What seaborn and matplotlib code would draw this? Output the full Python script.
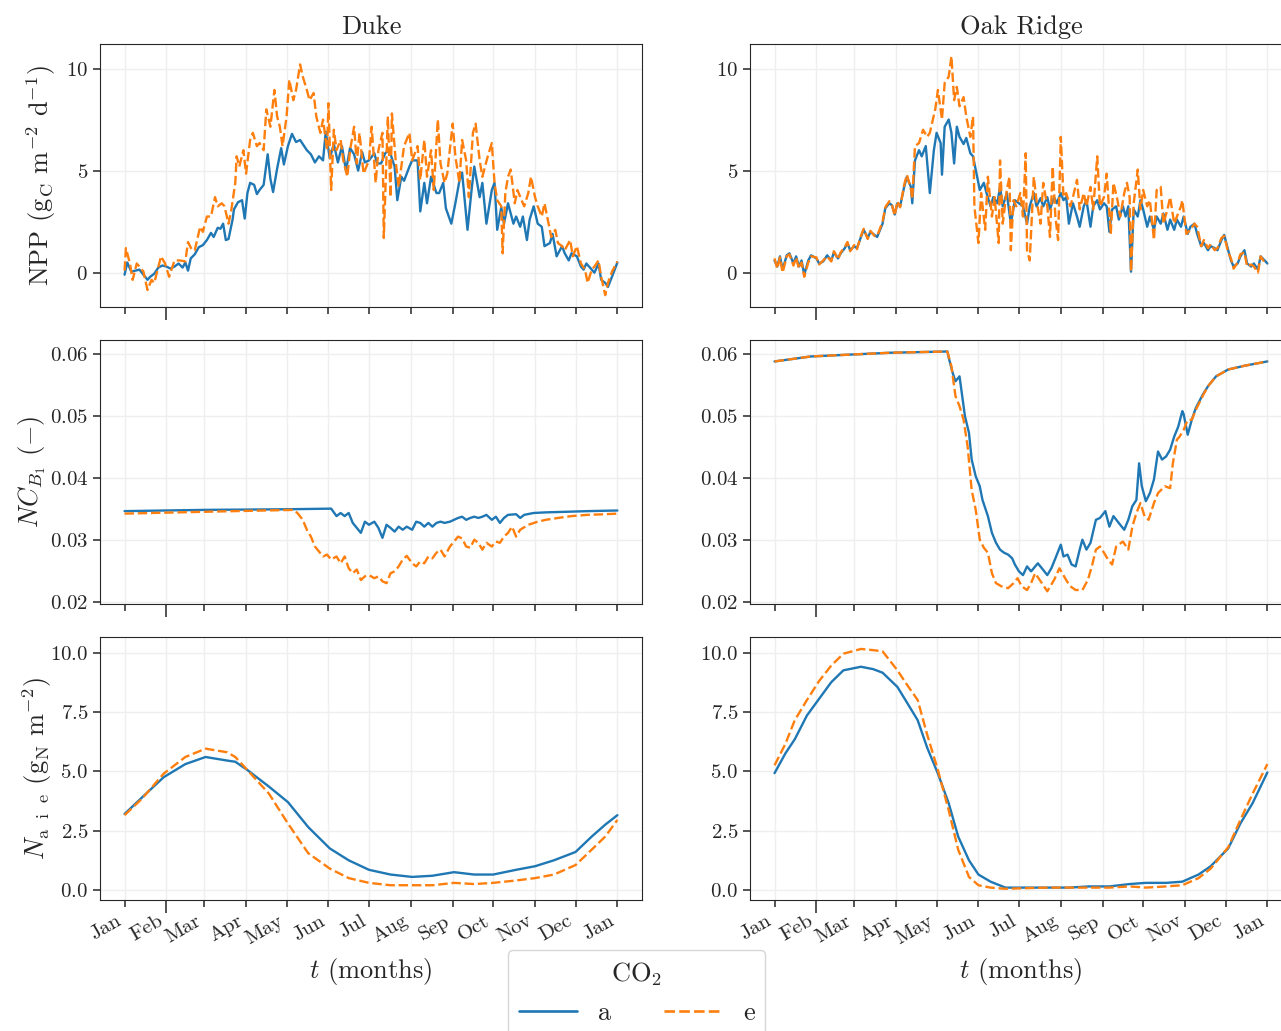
import numpy as np
import pandas as pd
import matplotlib
matplotlib.use("Agg")
import matplotlib.pyplot as plt
import seaborn as sns

# ---------------- data ----------------
months = ["Jan", "Feb", "Mar", "Apr", "May", "Jun", "Jul", "Aug", "Sep", "Oct", "Nov", "Dec", "Jan"]
month_days = [0, 31, 59, 90, 120, 151, 181, 212, 243, 273, 304, 334, 365]
sites = ["Duke", "Oak Ridge"]
co2_levels = ["a", "e"]

# NPP, Duke, ambient
duke_npp_a_day = [0, 2, 5, 8, 11, 14, 17, 19, 22, 25, 28, 31, 34, 37, 40, 43, 45, 47, 49, 52, 55, 58, 61, 64, 66, 69,
                  71, 73, 75, 77, 80, 81, 84, 87, 89, 91, 93, 96, 98, 100, 103, 106, 108, 110, 113, 116, 118, 121, 124,
                  127, 130, 132, 135, 138, 141, 144, 147, 149, 152, 155, 158, 161, 164, 167, 170, 173, 176, 178,
                  181, 185, 187, 190, 193, 196, 200, 202, 205, 207, 211, 213, 217, 219, 222, 224, 227, 231, 233, 236,
                  238, 242, 245, 248, 250, 254, 257, 259, 263, 265, 268, 272, 274, 276, 279, 281, 284, 288, 290, 293,
                  295, 298, 300, 303, 306, 309, 311, 315, 317, 320, 324, 326, 329, 331, 335, 338, 340, 342, 346, 348,
                  351, 353, 356, 358, 361, 365]
duke_npp_a = [-0.1, 0.5, 0.05, 0.1, 0.15, -0.1, -0.35, -0.2, -0.05, 0.25, 0.35, 0.3, 0.2, 0.3, 0.45, 0.25, 0.5, 0.1,
              0.7, 0.9, 1.25, 1.35, 1.6, 1.95, 1.75, 2.2, 2.15, 2.4, 1.6, 1.65, 2.6, 3.1, 3.45, 3.55, 2.65, 3.9, 4.4,
              4.3, 3.85, 4.05, 4.3, 5.8, 4.6, 3.95, 5.1, 6.1, 5.3, 6.2, 6.8, 6.4, 6.5, 6.3, 6.0, 5.8, 5.4, 5.7, 5.5,
              6.9, 5.6, 6.3, 5.4, 6.2, 5.0, 6.1, 5.8, 5.0, 5.9, 5.4,
              5.5, 5.85, 5.35, 5.35, 5.85, 6.0, 5.2, 3.55, 4.7, 4.5, 5.2, 5.5, 5.5, 3.0, 4.4, 3.4, 4.7, 3.9, 3.9, 4.4,
              3.15, 2.4, 3.4, 4.5, 4.9, 2.1, 4.05, 5.2, 3.7, 4.4, 2.4, 4.05, 4.4, 2.1, 3.2, 2.4, 3.4, 2.4, 2.75, 2.25,
              2.75, 1.6, 2.6, 3.25, 2.4, 2.25, 1.3, 1.45, 1.9, 0.8, 1.3, 0.95, 0.6, 0.95, 0.8, 0.3, 0.15, 0.45, 0.15,
              0.0, 0.45, -0.35, -0.5, -0.7, -0.2, 0.5]

# NPP, Duke, elevated
duke_npp_e_day = [0, 1, 4, 6, 9, 11, 14, 17, 20, 22, 27, 30, 33, 37, 41, 45, 47, 50, 52, 56, 58, 61, 64, 67, 69, 72,
                  74, 77, 79, 82, 83, 85, 88, 90, 93, 95, 98, 100, 103, 105, 108, 111, 113, 115, 117, 120, 122, 125,
                  127, 130, 132, 135, 137, 140, 142, 145, 147, 150, 151, 153, 155, 157, 160, 162, 165, 167, 170, 172,
                  174, 177,
                  181, 183, 186, 188, 191, 192, 195, 197, 198, 201, 203, 207, 211, 213, 217, 219, 222, 224, 227, 229,
                  232, 234, 237, 239, 243, 245, 248, 250, 253, 255, 258, 260, 263, 265, 269, 272, 274, 276, 279, 280,
                  282, 284, 286, 289, 291, 294, 296, 299, 301, 304, 306, 309, 311, 314, 316, 319, 321, 324, 326, 330,
                  332, 335, 338, 341, 343, 346, 348, 351, 353, 356, 358, 361, 365]
duke_npp_e = [0.1, 1.2, 0.45, -0.35, 0.45, 0.3, 0.05, -0.85, -0.35, -0.5, 0.8, 0.45, -0.2, 0.6, 0.6, 0.55, 1.5, 1.1,
              1.1, 2.25, 2.0, 2.75, 2.75, 3.7, 3.25, 3.4, 3.25, 2.4, 3.05, 4.4, 5.7, 5.2, 6.0, 4.85, 6.5, 6.85, 6.2,
              6.35, 6.0, 8.0, 7.15, 8.95, 7.65, 7.15, 6.2, 7.65, 9.45, 8.45, 8.95, 10.2, 9.6, 8.95, 8.45, 8.8, 7.65,
              6.85, 7.5, 6.0, 8.3, 4.05, 7.0, 6.0, 6.5, 5.5, 4.7, 6.0, 7.15, 5.35, 6.85, 4.85,
              5.5, 7.15, 4.4, 6.0, 6.85, 1.7, 7.65, 3.7, 7.8, 5.35, 4.2, 6.2, 6.85, 5.5, 6.2, 4.55, 6.5, 4.7, 6.0,
              4.05, 7.5, 5.35, 4.4, 4.85, 7.3, 5.7, 4.4, 6.5, 5.5, 3.7, 6.85, 7.3, 5.5, 4.7, 5.7, 6.35, 4.4, 3.55,
              3.25, 0.95, 3.9, 4.7, 5.05, 3.4, 4.05, 3.55, 3.25, 3.9, 4.7, 3.7, 3.25, 2.75, 3.4, 2.4, 1.75, 2.1, 1.45,
              1.3, 1.1, 1.6, 0.8, 1.3, 0.45, 0.15, -0.5, 0.15, 0.3, 0.6, -0.2, -1.1, -0.5, 0.05, 0.55]

# NPP, Oak Ridge, ambient
oak_npp_a_day = [0, 2, 4, 6, 9, 11, 14, 16, 18, 20, 22, 25, 27, 31, 33, 36, 39, 42, 44, 47, 49, 52, 54, 56, 59, 61,
                 64, 66, 69, 71, 74, 76, 80, 82, 85, 87, 89, 91, 93, 96, 98, 101, 102, 104, 107, 109, 112, 115, 118,
                 120, 123, 124, 126, 129, 131, 133, 135, 137, 140, 142, 145, 147, 150, 152, 155, 157, 160, 162, 165,
                 167, 169, 172, 175, 178, 181, 184, 187, 189, 192, 194, 197, 199, 202, 204, 207, 209, 212, 214, 216,
                 218, 221, 224, 226, 229, 231, 234, 236, 239, 241, 244, 246, 248, 250, 253, 255, 258, 260, 262, 264,
                 266, 269, 271, 273, 276, 278, 281, 283, 286, 288, 291, 293, 296, 298, 301, 303, 306, 308, 311, 313,
                 316, 318, 321, 323, 326, 328, 331, 333, 336, 338, 340, 343, 345, 348, 350, 353, 355, 358, 360, 363, 365]
oak_npp_a = [0.6, 0.3, 0.8, 0.15, 0.85, 0.95, 0.45, 0.8, 0.3, 0.6, -0.1, 0.6, 0.85, 0.7, 0.45, 0.55, 0.85, 0.6, 1.0,
             0.7, 0.95, 1.2, 1.45, 1.1, 1.3, 1.2, 1.75, 2.1, 1.7, 2.0, 1.85, 1.75, 2.4, 3.15, 3.4, 3.3, 2.85, 3.4,
             3.25, 4.2, 4.7, 4.2, 3.4, 5.5, 6.0, 5.7, 6.2, 3.9, 6.0, 6.85, 6.35, 4.8, 7.15, 7.5, 6.85, 5.35, 7.15,
             6.65, 6.3, 6.6, 5.85, 5.7, 4.7, 4.05, 4.4, 3.9, 3.25, 3.7, 3.4, 4.2, 3.25, 3.9, 2.4, 3.55, 3.4, 3.25,
             2.4, 3.25, 3.9, 3.25, 3.65, 3.25, 3.7, 3.1, 3.7, 3.4, 3.9, 3.55, 3.7, 2.4, 3.4, 2.75, 2.25, 3.25, 3.55,
             2.25, 3.25, 3.55, 3.1, 3.4, 3.25, 2.0, 3.1, 3.25, 2.6, 3.25, 2.75, 3.25, 0.05, 3.1, 2.75, 3.55, 3.1,
             2.25, 2.75, 2.1, 2.75, 2.4, 2.9, 2.1, 2.6, 2.1, 2.6, 2.25, 2.75, 1.9, 2.25, 2.4, 1.9, 1.3, 1.45, 1.1,
             1.3, 1.2, 1.1, 1.6, 1.85, 1.1, 0.6, 0.3, 0.45, 0.8, 1.1, 0.45, 0.3, 0.45, 0.15, 0.8, 0.6, 0.45]

# NPP, Oak Ridge, elevated
oak_npp_e_day = [0, 2, 4, 6, 9, 11, 14, 16, 18, 20, 22, 25, 27, 31, 33, 36, 39, 42, 44, 47, 49, 52, 54, 56, 59, 61,
                 64, 66, 69, 71, 74, 76, 80, 82, 85, 87, 89, 91, 93, 96, 98, 101, 102, 104, 107, 110, 113, 115, 119,
                 121, 124, 126, 129, 131, 133, 135, 137, 140, 142, 145, 147, 148, 151, 153, 156, 158, 161, 163, 166,
                 167, 169, 172, 174, 175, 177, 179, 182, 184, 186, 187, 189, 192, 194, 197, 199, 202, 204, 206, 208,
                 210, 212, 214, 216, 219, 221, 224, 226, 229, 231, 234, 236, 239, 241, 244, 246, 249, 251, 254, 256,
                 259, 261, 263, 264, 266, 269, 271, 273, 276, 278, 281, 283, 286, 288, 291, 293, 296, 298, 301, 302,
                 305, 308, 311, 313, 316, 318, 321, 323, 326, 328, 331, 333, 336, 338, 340, 343, 345, 348, 350, 353,
                 355, 358, 360, 363, 365]
oak_npp_e = [0.7, 0.2, 0.75, 0.0, 0.8, 0.9, 0.35, 0.75, 0.2, 0.5, -0.2, 0.5, 0.8, 0.75, 0.4, 0.6, 0.8, 0.55, 1.05,
             0.65, 1.0, 1.25, 1.5, 1.05, 1.35, 1.15, 1.8, 2.15, 1.65, 2.05, 1.8, 1.8, 2.5, 3.2, 3.5, 3.3, 2.8, 3.5,
             3.2, 4.3, 4.8, 4.1, 3.6, 6.2, 6.35, 7.0, 6.65, 6.85, 8.0, 8.95, 7.5, 9.3, 9.6, 10.6, 8.45, 9.1, 8.15,
             8.6, 7.65, 6.65, 7.65, 3.25, 1.45, 3.9, 2.1, 4.7, 2.75, 3.7, 1.45, 5.5, 2.4, 4.05, 4.7, 1.1, 3.55, 3.25,
             3.9, 2.75, 5.85, 1.1, 0.6, 4.7, 3.55, 2.4, 4.4, 3.25, 1.75, 5.2, 2.75, 1.6, 6.65, 3.7, 3.9, 3.25, 3.7,
             4.55, 3.1, 3.9, 3.25, 4.2, 3.1, 5.7, 3.25, 3.7, 4.85, 1.9, 4.4, 3.55, 2.75, 3.9, 4.4, 3.7, 0.05, 3.4,
             5.05, 3.1, 4.05, 3.25, 3.55, 1.6, 4.05, 4.2, 2.4, 3.1, 3.7, 2.4, 2.75, 3.25, 3.55, 1.9, 2.1, 2.4, 2.25,
             1.3, 1.6, 1.2, 1.4, 1.1, 1.2, 1.7, 1.8, 1.0, 0.7, 0.2, 0.5, 0.9, 1.0, 0.3, 0.4, 0.3, 0.0, 0.8, 0.5, 0.5]

# N:C of B1 pool
duke_nc_a_day = [0, 60, 120, 153, 157, 160, 163, 166, 169, 172, 175, 178, 181, 185, 188, 191, 194, 197, 200, 203,
                 206, 209, 213, 216, 219, 222, 225, 228, 231, 234, 237, 241, 244, 247, 250, 253, 256, 259, 262, 265,
                 268, 272, 275, 278, 281, 284, 290, 293, 296, 303, 312, 328, 343, 365]
duke_nc_a = [0.0347, 0.0349, 0.0350, 0.0351, 0.0339, 0.0344, 0.0339, 0.0344, 0.0328, 0.0320, 0.0312, 0.0330, 0.0325,
             0.0330, 0.0320, 0.0304, 0.0325, 0.0320, 0.0314, 0.0322, 0.0317, 0.0322, 0.0317, 0.0330, 0.0328, 0.0322,
             0.0328, 0.0322, 0.0328, 0.0330, 0.0328, 0.0330, 0.0333, 0.0336, 0.0338, 0.0333, 0.0336, 0.0338, 0.0336,
             0.0338, 0.0341, 0.0333, 0.0338, 0.0328, 0.0336, 0.0341, 0.0342, 0.0336, 0.0341, 0.0344, 0.0345, 0.0346,
             0.0347, 0.0348]
duke_nc_e_day = [0, 60, 125, 128, 132, 135, 138, 141, 144, 147, 150, 153, 157, 160, 163, 166, 169, 172, 175, 178,
                 181, 185, 188, 191, 194, 197, 200, 203, 206, 209, 213, 216, 219, 222, 225, 228, 231, 234, 237, 241,
                 244, 247, 250, 253, 256, 259, 262, 265, 268, 272, 275, 278, 281, 284, 287, 290, 293, 299, 306, 312,
                 321, 331, 343, 356, 365]
duke_nc_e = [0.0343, 0.0346, 0.0349, 0.0344, 0.0333, 0.0317, 0.0306, 0.0290, 0.0282, 0.0274, 0.0277, 0.0269, 0.0274,
             0.0263, 0.0274, 0.0255, 0.0247, 0.0253, 0.0236, 0.0242, 0.0244, 0.0239, 0.0242, 0.0234, 0.0231, 0.0247,
             0.0250, 0.0258, 0.0269, 0.0275, 0.0263, 0.0258, 0.0266, 0.0263, 0.0274, 0.0271, 0.0280, 0.0285, 0.0274,
             0.0290, 0.0298, 0.0306, 0.0303, 0.0290, 0.0288, 0.0301, 0.0296, 0.0285, 0.0296, 0.0290, 0.0298, 0.0296,
             0.0306, 0.0312, 0.0322, 0.0306, 0.0317, 0.0325, 0.0330, 0.0333, 0.0336, 0.0339, 0.0341, 0.0342, 0.0343]
oak_nc_a_day = [0, 27, 56, 86, 128, 129, 132, 134, 137, 138, 141, 144, 146, 149, 152, 154, 158, 161, 164, 167, 170,
                173, 176, 178, 181, 184, 187, 190, 195, 198, 202, 205, 208, 212, 214, 217, 220, 223, 226, 228, 231,
                234, 238, 241, 245, 248, 251, 256, 259, 262, 265, 268, 270, 272, 275, 278, 281, 284, 287, 290, 293,
                296, 299, 302, 303, 306, 309, 312, 317, 321, 327, 336, 348, 365]
oak_nc_a = [0.0588, 0.0596, 0.0599, 0.0602, 0.0604, 0.0594, 0.0569, 0.0556, 0.0564, 0.0548, 0.0500, 0.0473, 0.0430,
            0.0403, 0.0387, 0.0365, 0.0339, 0.0312, 0.0296, 0.0285, 0.0280, 0.0277, 0.0271, 0.0261, 0.0250, 0.0244,
            0.0258, 0.0250, 0.0263, 0.0255, 0.0244, 0.0255, 0.0271, 0.0293, 0.0274, 0.0277, 0.0261, 0.0258, 0.0285,
            0.0301, 0.0285, 0.0296, 0.0333, 0.0336, 0.0347, 0.0322, 0.0339, 0.0325, 0.0317, 0.0333, 0.0355, 0.0365,
            0.0424, 0.0387, 0.0363, 0.0376, 0.0398, 0.0443, 0.0430, 0.0435, 0.0446, 0.0467, 0.0483, 0.0508, 0.0503,
            0.0470, 0.0494, 0.0513, 0.0534, 0.0548, 0.0564, 0.0575, 0.0581, 0.0588]
oak_nc_e_day = [0, 27, 56, 86, 128, 131, 134, 137, 140, 143, 146, 149, 152, 155, 158, 161, 164, 168, 173, 177, 180,
                183, 187, 190, 193, 198, 202, 207, 211, 216, 219, 223, 228, 232, 235, 238, 241, 244, 247, 250, 253,
                258, 262, 265, 268, 271, 274, 277, 281, 284, 289, 293, 295, 298, 300, 303, 306, 309, 312, 317, 321,
                327, 336, 348, 365]
oak_nc_e = [0.0588, 0.0596, 0.0599, 0.0602, 0.0604, 0.0580, 0.0532, 0.0516, 0.0494, 0.0451, 0.0381, 0.0349, 0.0301,
            0.0288, 0.0280, 0.0247, 0.0231, 0.0226, 0.0223, 0.0231, 0.0239, 0.0226, 0.0220, 0.0231, 0.0247, 0.0231,
            0.0218, 0.0236, 0.0255, 0.0236, 0.0226, 0.0220, 0.0220, 0.0236, 0.0258, 0.0285, 0.0290, 0.0280, 0.0269,
            0.0261, 0.0290, 0.0298, 0.0285, 0.0322, 0.0344, 0.0360, 0.0339, 0.0333, 0.0360, 0.0376, 0.0387, 0.0384,
            0.0424, 0.0462, 0.0467, 0.0478, 0.0494, 0.0494, 0.0510, 0.0532, 0.0548, 0.0564, 0.0575, 0.0581, 0.0588]

# inorganic N available
duke_n_day = [0, 13, 29, 45, 60, 76, 82, 91, 107, 121, 136, 152, 166, 181, 197, 213, 228, 244, 259, 273, 290, 304,
              318, 334, 346, 356, 365]
duke_n_a = [3.2, 3.9, 4.75, 5.3, 5.6, 5.45, 5.4, 5.05, 4.35, 3.7, 2.65, 1.75, 1.25, 0.85, 0.65, 0.55, 0.6, 0.75,
            0.65, 0.65, 0.85, 1.0, 1.25, 1.6, 2.25, 2.75, 3.15]
duke_n_e = [3.15, 3.85, 4.9, 5.6, 5.95, 5.8, 5.6, 5.05, 4.05, 2.8, 1.55, 0.9, 0.5, 0.3, 0.2, 0.2, 0.2, 0.3, 0.25,
            0.3, 0.4, 0.5, 0.65, 1.05, 1.7, 2.25, 2.95]
oak_n_day = [0, 8, 15, 24, 33, 42, 51, 64, 73, 80, 91, 98, 106, 113, 121, 129, 136, 144, 151, 160, 171, 187, 203,
             218, 233, 248, 263, 275, 290, 302, 314, 323, 336, 345, 354, 365]
oak_n_a = [4.92, 5.75, 6.35, 7.35, 8.05, 8.75, 9.25, 9.4, 9.3, 9.15, 8.55, 7.9, 7.15, 6.0, 4.9, 3.65, 2.25, 1.25,
           0.65, 0.35, 0.1, 0.1, 0.1, 0.1, 0.15, 0.15, 0.25, 0.3, 0.3, 0.35, 0.65, 1.0, 1.75, 2.8, 3.65, 4.95]
oak_n_e = [5.25, 6.15, 7.15, 8.0, 8.8, 9.45, 9.95, 10.15, 10.1, 10.05, 9.25, 8.65, 8.0, 6.55, 5.05, 3.35, 1.7, 0.55,
           0.2, 0.1, 0.05, 0.08, 0.1, 0.1, 0.1, 0.1, 0.15, 0.1, 0.15, 0.2, 0.5, 0.9, 1.8, 2.95, 4.05, 5.3]

# ---------------- assemble ----------------
series = [
    ("NPP", "Duke", "a", duke_npp_a_day, duke_npp_a), ("NPP", "Duke", "e", duke_npp_e_day, duke_npp_e),
    ("NPP", "Oak Ridge", "a", oak_npp_a_day, oak_npp_a), ("NPP", "Oak Ridge", "e", oak_npp_e_day, oak_npp_e),
    ("NC", "Duke", "a", duke_nc_a_day, duke_nc_a), ("NC", "Duke", "e", duke_nc_e_day, duke_nc_e),
    ("NC", "Oak Ridge", "a", oak_nc_a_day, oak_nc_a), ("NC", "Oak Ridge", "e", oak_nc_e_day, oak_nc_e),
    ("N", "Duke", "a", duke_n_day, duke_n_a), ("N", "Duke", "e", duke_n_day, duke_n_e),
    ("N", "Oak Ridge", "a", oak_n_day, oak_n_a), ("N", "Oak Ridge", "e", oak_n_day, oak_n_e),
]
frames = []
for var, site, co2, d, v in series:
    frames.append(pd.DataFrame({"var": var, "site": site, "CO2": co2, "day": d, "value": v}))
df = pd.concat(frames, ignore_index=True)

# ---------------- style ----------------
sns.set_style("whitegrid", {
    "axes.edgecolor": "#262626", "grid.color": "#efefef", "axes.linewidth": 1.25,
    "xtick.bottom": True, "ytick.left": True,
})
plt.rcParams.update({
    "font.family": ["cmr10", "DejaVu Serif"],
    "mathtext.fontset": "cm",
    "axes.formatter.use_mathtext": True,
    "axes.unicode_minus": False,
    "xtick.color": "#262626", "ytick.color": "#262626",
    "xtick.labelcolor": "#262626", "ytick.labelcolor": "#262626",
    "xtick.major.size": 5, "ytick.major.size": 5,
    "xtick.major.width": 1.1, "ytick.major.width": 1.1,
    "grid.linewidth": 1.0,
})

fig, axes = plt.subplots(3, 2, figsize=(12.81, 10.31), dpi=100, sharex=True, sharey="row")
fig.subplots_adjust(left=0.078, right=1.0086, top=0.9573, bottom=0.1271, wspace=0.199, hspace=0.125)

palette = {"a": "#1f77b4", "e": "#ff7f0e"}
dashes = {"a": "", "e": (4, 1.6)}
rows = ["NPP", "NC", "N"]
ylabels = [r"NPP (g$_\mathrm{C}$ m$^{-2}$ d$^{-1}$)",
           r"$NC_{B_1}$ $(-)$",
           r"$N_{\mathrm{a\ \ i\ \ e}}$ (g$_\mathrm{N}$ m$^{-2}$)"]
ylabelpads = [6, 1, -3]
yticks = [[0, 5, 10], [0.02, 0.03, 0.04, 0.05, 0.06], [0.0, 2.5, 5.0, 7.5, 10.0]]

for r, var in enumerate(rows):
    for c, site in enumerate(sites):
        ax = axes[r, c]
        sub = df[(df["var"] == var) & (df["site"] == site)]
        sns.lineplot(data=sub, x="day", y="value", hue="CO2", style="CO2", palette=palette,
                     dashes=dashes, hue_order=co2_levels, style_order=co2_levels,
                     linewidth=1.7, ax=ax, legend=(r == 0 and c == 0))
        ax.set_yticks(yticks[r])
        ax.tick_params(axis="both", labelsize=15)
        ax.tick_params(axis="y", labelleft=True)
        ax.grid(True, color="#efefef", linewidth=1.0)
        if c == 0:
            ax.set_ylabel(ylabels[r], fontsize=19, labelpad=ylabelpads[r])
        else:
            ax.set_ylabel("")
        ax.set_xlabel("")
        if r == 0:
            ax.set_title(site, fontsize=19, pad=7)

axes[0, 0].set_ylim(-1.7, 11.2)
axes[1, 0].set_ylim(0.0198, 0.0622)
axes[2, 0].set_ylim(-0.42, 10.67)

for ax in axes.flat:
    ax.set_xticks(month_days)
    ax.set_xlim(-18.25, 383.25)
    ticks = ax.xaxis.get_major_ticks()
    ticks[1].tick1line.set_markersize(9)

for c in range(2):
    ax = axes[2, c]
    ax.set_xticklabels(months)
    plt.setp(ax.get_xticklabels(), rotation=30, ha="right", fontsize=15)
    ax.set_xlabel(r"$t$ (months)", fontsize=19, labelpad=6)

handles, labels = axes[0, 0].get_legend_handles_labels()
axes[0, 0].get_legend().remove()
leg = fig.legend(handles, labels, title=r"CO$_2$", ncol=2, loc="upper center",
                 bbox_to_anchor=(0.497, 0.0786), borderaxespad=0.0, fontsize=19, title_fontsize=19,
                 frameon=True, fancybox=True, edgecolor="#cccccc", handlelength=2.2,
                 columnspacing=2.0, borderpad=0.4)
for h in leg.get_lines():
    h.set_linewidth(1.9)

fig.savefig("out.png", dpi=100)
